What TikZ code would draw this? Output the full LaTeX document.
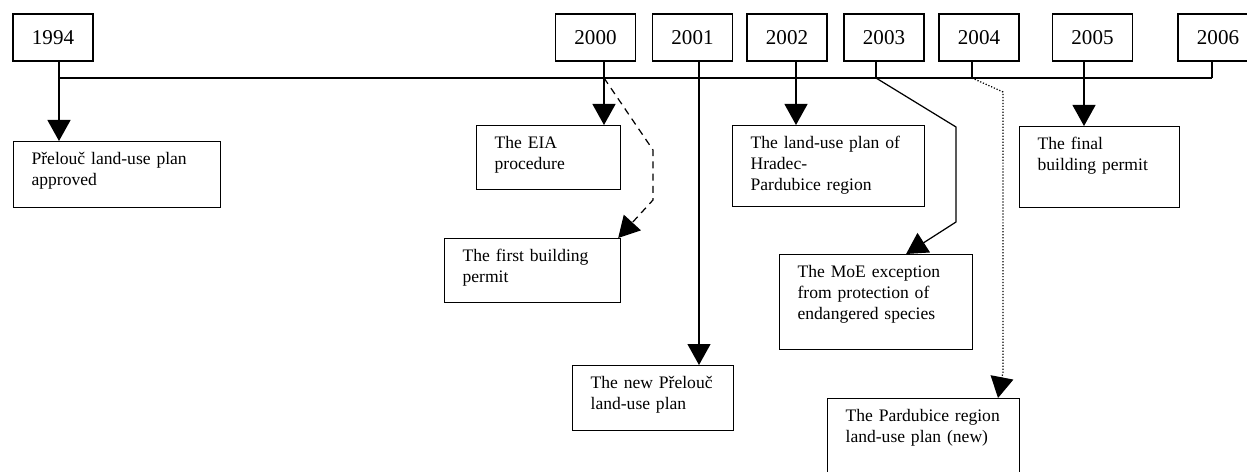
\documentclass[tikz,border=0pt]{standalone}
\usepackage{fontspec}
\setmainfont{Liberation Serif}
\usetikzlibrary{arrows.meta,positioning,calc}

\begin{document}
\begin{tikzpicture}[
        x=0.02cm, y=-0.02cm,
        year/.style={draw, line width=0.7pt, minimum width=1.6cm, minimum height=0.94cm, inner sep=0pt, font=\fontsize{12}{14}\selectfont},
        event/.style={draw, line width=0.7pt, anchor=north west, align=left, inner xsep=0.36cm, inner ysep=0.22cm, text height=0.23cm, font=\fontsize{10}{12}\selectfont},
        link/.style={line width=0.7pt},
        arr/.style={-{Triangle[width=0.46cm,length=0.42cm]}, line width=0.7pt}
    ]
        \useasboundingbox (0,0) rectangle (1247,472);

        % Years
        \node[year] (y1994) at (53,37.5) {1994};
        \node[year] (y2000) at (595.5,37.5) {2000};
        \node[year] (y2001) at (692.5,37.5) {2001};
        \node[year] (y2002) at (787,37.5) {2002};
        \node[year] (y2003) at (884,37.5) {2003};
        \node[year] (y2004) at (979,37.5) {2004};
        \node[year] (y2005) at (1092.5,37.5) {2005};
        \node[year] (y2006) at (1218,37.5) {2006};

        % Events
        \node[event, text width=3.42cm, text depth=0.65cm] (approved) at (13,141) {Přelouč land-use plan\\approved};
        \node[event, text width=2.16cm, text depth=0.61cm] (eia) at (476,125) {The EIA\\procedure};
        \node[event, text width=2.80cm, text depth=0.61cm] (firstpermit) at (444,238) {The first building\\permit};
        \node[event, text width=2.50cm, text depth=0.63cm] (newplan) at (572,365) {The new Přelouč\\land-use plan};
        \node[event, text width=3.12cm, text depth=0.95cm] (hradec) at (732,125) {The land-use plan of\\Hradec-\\Pardubice region};
        \node[event, text width=3.14cm, text depth=1.23cm] (moe) at (779,254) {The MoE exception\\from protection of\\endangered species};
        \node[event, text width=2.48cm, text depth=0.95cm] (final) at (1019,126) {The final\\building permit};
        \node[event, text width=3.12cm, text depth=1.33cm] (pardubice) at (827,398) {The Pardubice region\\land-use plan (new)};

        % Timeline
        \coordinate (t1994) at (59,78);
        \coordinate (t2000) at (604,78);
        \coordinate (t2001) at (699,78);
        \coordinate (t2002) at (796,78);
        \coordinate (t2003) at (876,78);
        \coordinate (t2004) at (972,78);
        \coordinate (t2005) at (1084,78);
        \coordinate (t2006) at (1212,78);
        \draw[link] (t1994) -- (t2006);
        \foreach \yr in {1994,2000,2001,2002,2003,2004,2005,2006}
            \draw[link] (y\yr.south -| t\yr) -- (t\yr);

        % Arrows
        \draw[arr] (t1994) -- (approved.north -| t1994);
        \draw[arr] (t2000) -- (eia.north -| t2000);
        \draw[arr] (t2001) -- (newplan.north -| t2001);
        \draw[arr] (t2002) -- (hradec.north -| t2002);
        \draw[arr] (t2005) -- (final.north -| t2005);
        \draw[arr, dash pattern=on 4pt off 3pt] (t2000) -- (653,150) -- (653,200) -- ($(firstpermit.north east)+(-3,0)$);
        \draw[arr] (t2003) -- (956,127) -- (956,222) -- ($(moe.north)+(30,0)$);
        \draw[arr, densely dotted] (t2004) -- (1003,92) -- (1003,372) -- ($(pardubice.north west)+(171,0)$);
    \end{tikzpicture}
\end{document}
